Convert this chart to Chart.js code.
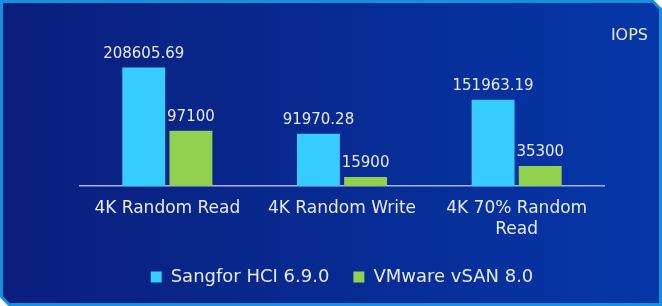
<!DOCTYPE html>
<html>
<head>
<meta charset="utf-8">
<script src="https://cdn.jsdelivr.net/npm/chart.js@4.4.1/dist/chart.umd.min.js"></script>
<style>
  html, body { margin: 0; padding: 0; background: #ffffff; }
  #wrap { width: 662px; height: 306px; }
</style>
</head>
<body>
<div id="wrap"><canvas id="chart" width="662" height="306"></canvas></div>
<script>
// ---------- Data ----------
const categories = ["4K Random Read", "4K Random Write", ["4K 70% Random", "Read"]];
const sangforValues = [208605.69, 91970.28, 151963.19];
const vmwareValues = [97100, 15900, 35300];
const seriesNames = ["Sangfor HCI 6.9.0", "VMware vSAN 8.0"];
const unitLabel = "IOPS";

const TEXT_COLOR = "#e6ebf7";
const FONT = "'DejaVu Sans', sans-serif";

// ---------- Card background (chamfered corners) ----------
const cardBackground = {
  id: 'cardBackground',
  beforeDraw(chart) {
    const { ctx, width, height } = chart;
    const c = 9;
    ctx.save();
    ctx.beginPath();
    ctx.moveTo(1.5, 1.5);
    ctx.lineTo(width - c, 1.5);
    ctx.lineTo(width - 1.5, c);
    ctx.lineTo(width - 1.5, height - 1.5);
    ctx.lineTo(c, height - 1.5);
    ctx.lineTo(1.5, height - c);
    ctx.closePath();
    const g = ctx.createLinearGradient(0, 0, width, 0);
    g.addColorStop(0, '#0a1e7c');
    g.addColorStop(1, '#0537a8');
    ctx.fillStyle = g;
    ctx.fill();
    ctx.lineWidth = 3;
    ctx.strokeStyle = '#1690dd';
    ctx.stroke();

    // unit label top right
    ctx.fillStyle = TEXT_COLOR;
    ctx.font = "16px " + FONT;
    ctx.textAlign = 'right';
    ctx.textBaseline = 'alphabetic';
    ctx.fillText(unitLabel, 648, 39.5);
    ctx.restore();
  }
};

// ---------- Value labels above bars ----------
const valueLabels = {
  id: 'valueLabels',
  afterDatasetsDraw(chart) {
    const { ctx } = chart;
    ctx.save();
    ctx.fillStyle = TEXT_COLOR;
    ctx.font = "15px " + FONT;
    ctx.textAlign = 'center';
    ctx.textBaseline = 'alphabetic';
    chart.data.datasets.forEach((ds, i) => {
      chart.getDatasetMeta(i).data.forEach((bar, j) => {
        ctx.fillText(String(ds.data[j]), bar.x, bar.y - 10);
      });
    });
    ctx.restore();
  }
};

new Chart(document.getElementById('chart'), {
  type: 'bar',
  data: {
    labels: categories,
    datasets: [
      {
        label: seriesNames[0],
        data: sangforValues,
        backgroundColor: '#36ccff',
        borderWidth: 0,
        categoryPercentage: 0.54,
        barPercentage: 0.91
      },
      {
        label: seriesNames[1],
        data: vmwareValues,
        backgroundColor: '#92d050',
        borderWidth: 0,
        categoryPercentage: 0.54,
        barPercentage: 0.91
      }
    ]
  },
  options: {
    responsive: false,
    animation: false,
    layout: {
      padding: { left: 80, right: 58, top: 44, bottom: 10 }
    },
    plugins: {
      legend: {
        position: 'bottom',
        labels: {
          color: TEXT_COLOR,
          font: { family: FONT, size: 18 },
          boxWidth: 11,
          boxHeight: 11,
          padding: 24
        }
      },
      tooltip: { enabled: false }
    },
    scales: {
      x: {
        grid: { display: false, drawTicks: false },
        border: { display: true, color: '#a7b6e2', width: 1.5 },
        ticks: {
          color: TEXT_COLOR,
          font: { family: FONT, size: 17, lineHeight: 1.25 },
          padding: 12,
          maxRotation: 0,
          autoSkip: false
        },
        afterFit(scale) { scale.height = 58; }
      },
      y: {
        display: false,
        min: 0,
        max: 250000
      }
    }
  },
  plugins: [cardBackground, valueLabels]
});
</script>
</body>
</html>
